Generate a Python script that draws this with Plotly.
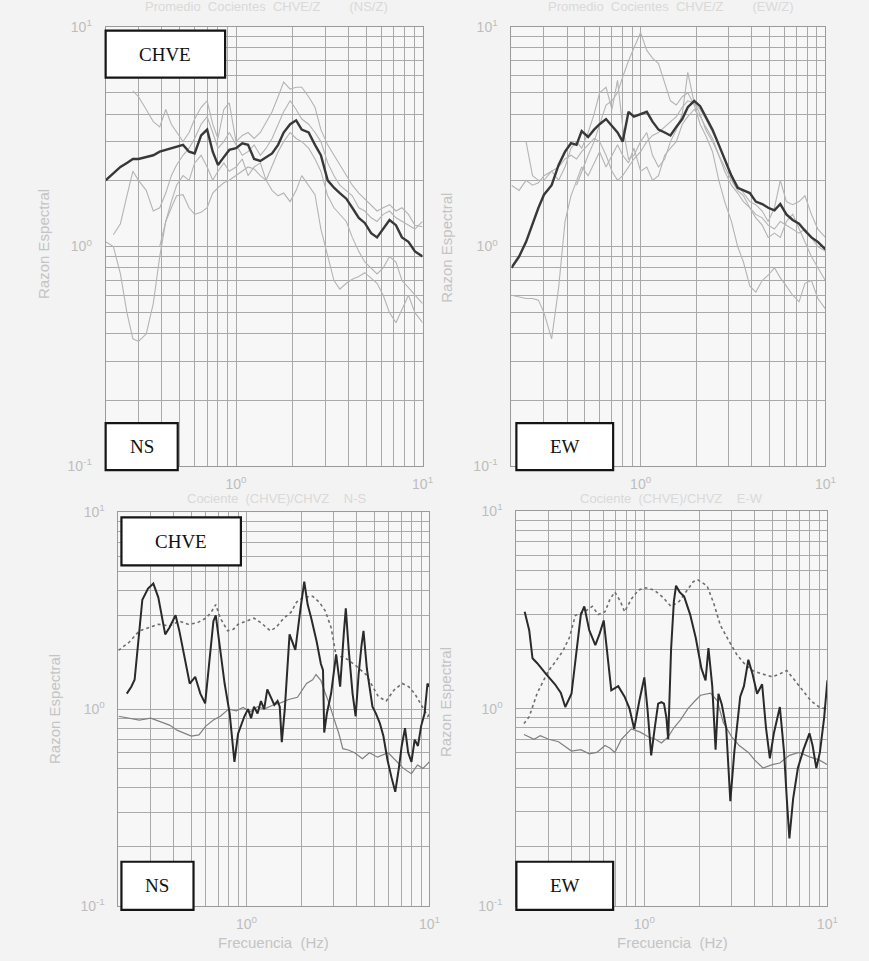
import math
import plotly.graph_objects as go

# ---------------- data ----------------
# common frequency grid for the averaged top panels (Hz)
F_TOP = [0.20, 0.22, 0.24, 0.26, 0.28, 0.30, 0.33, 0.36, 0.39, 0.42, 0.45, 0.48, 0.52, 0.56,
         0.60, 0.65, 0.70, 0.75, 0.80, 0.86, 0.92, 1.00, 1.08, 1.16, 1.25, 1.35, 1.45, 1.56,
         1.68, 1.80, 1.95, 2.10, 2.25, 2.45, 2.65, 2.85, 3.10, 3.35, 3.60, 3.90, 4.20, 4.55,
         4.90, 5.30, 5.70, 6.15, 6.65, 7.20, 7.75, 8.40, 9.10, 10.0]

# NS (top-left) : mean + individual ratios
NS_MEAN = [2.0, 2.15, 2.3, 2.4, 2.5, 2.5, 2.55, 2.6, 2.7, 2.75, 2.8, 2.85, 2.9, 2.7,
           2.65, 3.2, 3.4, 2.7, 2.35, 2.55, 2.75, 2.8, 2.95, 2.9, 2.5, 2.45, 2.55, 2.65,
           2.9, 3.3, 3.6, 3.75, 3.4, 3.3, 2.9, 2.6, 2.0, 1.85, 1.75, 1.65, 1.5, 1.35,
           1.28, 1.15, 1.1, 1.2, 1.32, 1.25, 1.1, 1.05, 0.95, 0.9]
NS_G1 = [None, None, None, None, 5.1, 4.8, 4.2, 3.7, 3.5, 4.2, 3.6, 3.3, 3.0, 3.3,
         3.8, 4.3, 4.6, 3.6, 3.1, 4.2, 4.5, 3.0, 3.2, 3.3, 3.1, 3.3, 3.7, 4.1,
         4.8, 5.6, 5.2, 5.3, 5.3, 4.8, 4.3, 3.4, 2.9, 2.6, 2.35, 2.1, 1.9, 1.75,
         1.65, 1.55, 1.45, 1.5, 1.55, 1.45, 1.5, 1.4, 1.25, 1.23]
NS_G2 = [None, 1.13, 1.27, 1.7, 2.2, 2.0, 1.8, 1.45, 1.5, 1.75, 2.1, 2.35, 2.6, 2.8,
         3.1, 3.6, 3.9, 3.3, 2.8, 3.0, 3.3, 2.9, 2.6, 2.7, 2.9, 2.6, 2.8, 3.1,
         3.6, 4.1, 4.6, 4.2, 3.8, 3.6, 3.3, 3.0, 2.4, 2.1, 1.9, 1.8, 1.7, 1.5,
         1.45, 1.35, 1.3, 1.4, 1.45, 1.35, 1.3, 1.25, 1.2, 1.3]
NS_G3 = [1.05, 1.0, 0.75, 0.5, 0.38, 0.37, 0.40, 0.55, 0.9, 1.3, 1.6, 1.9, 2.1, 2.0,
         2.4, 2.6, 2.3, 2.0, 2.2, 2.4, 2.2, 2.3, 2.5, 2.1, 2.3, 2.4, 2.0, 2.3,
         2.7, 3.0, 3.3, 3.1, 3.0, 2.8, 2.5, 2.2, 1.7, 1.5, 1.4, 1.3, 1.1, 0.95,
         0.85, 0.8, 0.75, 0.8, 0.9, 0.85, 0.7, 0.65, 0.6, 0.55]
NS_G4 = [None, None, None, None, None, None, None, None, 1.0, 1.3, 1.5, 1.7, 1.72, 1.5,
         1.4, 1.43, 1.5, 1.75, 1.85, 1.95, 2.0, 2.1, 2.2, 2.3, 2.25, 2.1, 2.0, 1.8,
         1.7, 1.75, 1.6, 1.8, 2.1, 1.9, 1.72, 1.2, 0.9, 0.7, 0.64, 0.68, 0.71, 0.73,
         0.76, 0.72, 0.68, 0.6, 0.5, 0.45, 0.52, 0.6, 0.5, 0.45]

# EW (top-right)
EW_MEAN = [0.8, 0.9, 1.05, 1.27, 1.5, 1.72, 1.9, 2.35, 2.7, 2.95, 2.9, 3.35, 3.15, 3.4,
           3.6, 3.8, 3.55, 3.3, 3.0, 4.1, 3.9, 4.0, 4.1, 3.7, 3.4, 3.3, 3.2, 3.5,
           3.8, 4.3, 4.6, 4.35, 3.9, 3.4, 2.9, 2.5, 2.1, 1.85, 1.8, 1.75, 1.6, 1.56,
           1.5, 1.46, 1.56, 1.4, 1.32, 1.27, 1.18, 1.1, 1.05, 0.97]
EW_G1 = [None, None, None, None, None, None, None, None, None, None, 1.9, 2.2, 2.6, 3.0,
         3.6, 4.4, 4.6, 5.0, 5.9, 7.0, 8.0, 9.4, 7.8, 7.2, 6.8, 5.5, 4.6, 4.4,
         4.8, 5.0, 4.4, 3.6, 3.2, 2.7, 2.0, 1.6, 1.3, 1.0, 0.85, 0.66, 0.62, 0.7,
         0.74, 0.8, 0.72, 0.66, 0.6, 0.56, 0.68, 0.7, 0.58, 0.52]
EW_G2 = [None, None, 3.0, 2.1, 2.0, 2.0, 2.2, 2.0, 2.3, 2.8, 3.0, 2.8, 3.3, 4.0,
         5.0, 5.3, 4.2, 5.7, 3.5, 2.5, 2.6, 3.0, 3.3, 2.6, 2.3, 2.5, 3.0, 3.4,
         4.0, 6.2, 4.5, 4.2, 3.8, 3.3, 2.9, 2.5, 2.1, 1.9, 1.75, 1.6, 1.55, 1.45,
         1.3, 1.5, 2.0, 1.6, 1.55, 1.6, 1.7, 1.4, 1.2, 1.1]
EW_G3 = [0.6, 0.59, 0.58, 0.58, 0.57, 0.5, 0.38, 0.65, 1.3, 1.7, 2.0, 2.3, 2.1, 2.4,
         2.7, 2.3, 2.6, 2.9, 2.6, 2.4, 2.8, 2.2, 2.3, 2.0, 2.1, 2.6, 2.8, 3.0,
         3.6, 3.9, 4.2, 3.9, 3.5, 3.1, 2.6, 2.3, 2.0, 1.8, 1.7, 1.5, 1.4, 1.35,
         1.25, 1.2, 1.3, 1.25, 1.2, 1.15, 1.2, 1.1, 1.0, 0.95]
EW_G4 = [1.9, 1.8, 2.0, 1.9, 1.95, 2.1, 2.2, 2.3, 2.5, 2.6, 2.5, 2.7, 2.9, 3.1,
         3.0, 2.6, 2.2, 2.0, 2.1, 2.3, 2.5, 2.7, 3.0, 3.2, 3.3, 3.5, 3.7, 3.9,
         4.3, 4.6, 4.5, 4.0, 3.4, 3.0, 2.6, 2.2, 1.9, 1.75, 1.6, 1.5, 1.35, 1.25,
         1.1, 1.15, 1.1, 1.3, 1.4, 1.2, 1.05, 0.9, 0.8, 0.7]

# bottom-left (NS) individual curves
NSB_THICK_F = [0.222, 0.235, 0.245, 0.26, 0.27, 0.29, 0.31, 0.33, 0.35, 0.36, 0.38, 0.41, 0.43, 0.46,
               0.49, 0.525, 0.56, 0.595, 0.63, 0.66, 0.68, 0.72, 0.76, 0.81, 0.86, 0.90, 0.94, 0.975,
               1.02, 1.06, 1.10, 1.15, 1.20, 1.25, 1.30, 1.36, 1.42, 1.48, 1.52, 1.56, 1.62, 1.72,
               1.85, 1.97, 2.07, 2.16, 2.26, 2.42, 2.55, 2.62, 2.66, 2.75, 2.90, 3.09, 3.25, 3.40,
               3.49, 3.62, 3.80, 3.95, 4.10, 4.25, 4.36, 4.55, 4.75, 4.88, 5.10, 5.35, 5.60, 5.90,
               6.20, 6.50, 6.80, 7.05, 7.35, 7.65, 7.97, 8.30, 8.65, 9.00, 9.40, 9.75, 10.0]
NSB_THICK_V = [1.2, 1.3, 1.41, 2.4, 3.6, 4.1, 4.35, 3.7, 2.8, 2.4, 2.6, 3.0, 2.5, 1.8,
               1.35, 1.46, 1.2, 1.07, 1.9, 2.8, 3.0, 2.0, 1.35, 0.95, 0.54, 0.75, 0.85, 0.92,
               1.0, 0.9, 1.03, 0.95, 1.1, 1.0, 1.26, 1.15, 1.05, 1.1, 1.03, 0.68, 1.0, 2.4,
               2.0, 3.2, 4.45, 3.4, 2.9, 2.2, 1.7, 1.58, 0.76, 0.95, 1.2, 1.9, 1.3, 2.4,
               3.25, 2.0, 1.2, 0.92, 1.5, 2.1, 2.5, 1.6, 1.2, 1.03, 0.95, 0.85, 0.73, 0.55,
               0.45, 0.38, 0.5, 0.65, 0.8, 0.6, 0.54, 0.7, 0.65, 0.82, 0.95, 1.35, 1.3]
NSB_THIN_F = [0.2, 0.23, 0.26, 0.3, 0.34, 0.38, 0.42, 0.46, 0.5, 0.55, 0.6, 0.66, 0.72, 0.8,
              0.88, 0.96, 1.05, 1.15, 1.25, 1.4, 1.55, 1.7, 1.9, 2.13, 2.3, 2.4, 2.55, 2.7,
              2.83, 3.0, 3.2, 3.36, 3.6, 3.9, 4.3, 4.7, 5.2, 5.95, 6.5, 7.2, 7.97, 8.6, 9.2, 10.0]
NSB_THIN_V = [0.92, 0.9, 0.88, 0.9, 0.86, 0.83, 0.78, 0.75, 0.73, 0.74, 0.82, 0.88, 0.92, 1.0,
              0.98, 1.02, 0.97, 1.03, 1.0, 1.05, 1.08, 1.12, 1.15, 1.35, 1.41, 1.5, 1.4, 1.2,
              1.07, 0.9, 0.75, 0.63, 0.62, 0.6, 0.56, 0.6, 0.57, 0.6, 0.55, 0.5, 0.47, 0.52, 0.5, 0.54]
NSB_DOT_F = [0.2, 0.23, 0.26, 0.29, 0.33, 0.38, 0.43, 0.48, 0.54, 0.6, 0.64, 0.68, 0.72, 0.79,
             0.85, 0.9, 1.0, 1.1, 1.2, 1.35, 1.45, 1.6, 1.75, 1.88, 2.05, 2.3, 2.5, 2.7,
             2.9, 3.1, 3.35, 3.6, 4.0, 4.5, 4.9, 5.25, 5.8, 6.4, 7.1, 7.7, 8.3, 9.0, 9.8, 10.0]
NSB_DOT_V = [1.99, 2.2, 2.5, 2.6, 2.7, 2.65, 2.8, 2.7, 2.75, 2.9, 3.1, 3.4, 2.9, 2.5,
             2.55, 2.7, 2.8, 2.9, 2.75, 2.5, 2.6, 2.9, 3.1, 3.5, 3.7, 3.75, 3.5, 3.15,
             2.6, 1.84, 1.85, 1.78, 1.65, 1.5, 1.3, 1.16, 1.1, 1.25, 1.35, 1.3, 1.2, 1.05, 0.92, 0.95]

# bottom-right (EW) individual curves
EWB_THICK_F = [0.222, 0.235, 0.245, 0.26, 0.29, 0.325, 0.35, 0.37, 0.40, 0.43, 0.45, 0.47, 0.50, 0.54,
               0.57, 0.60, 0.63, 0.66, 0.72, 0.78, 0.83, 0.88, 0.94, 1.0, 1.04, 1.09, 1.14, 1.19,
               1.24, 1.28, 1.32, 1.35, 1.40, 1.45, 1.49, 1.56, 1.65, 1.78, 1.91, 2.05, 2.16, 2.24,
               2.35, 2.45, 2.54, 2.65, 2.80, 2.95, 3.10, 3.34, 3.50, 3.70, 3.90, 4.13, 4.40, 4.62,
               4.85, 5.10, 5.50, 5.80, 6.00, 6.20, 6.50, 6.90, 7.40, 7.98, 8.30, 8.70, 9.10, 9.60, 10.0]
EWB_THICK_V = [3.1, 2.5, 1.8, 1.7, 1.5, 1.33, 1.2, 1.02, 1.19, 2.2, 3.0, 3.3, 2.5, 2.1,
               2.4, 2.8, 1.8, 1.24, 1.3, 1.15, 1.0, 0.79, 1.1, 1.44, 1.0, 0.58, 0.8, 1.06,
               1.08, 1.06, 0.9, 0.7, 2.0, 3.5, 4.2, 3.9, 3.7, 3.0, 2.28, 1.6, 1.39, 2.03,
               1.3, 0.62, 1.19, 1.05, 0.8, 0.34, 0.6, 1.15, 1.3, 1.77, 1.5, 1.19, 1.33, 0.8,
               0.56, 0.75, 1.02, 0.6, 0.35, 0.22, 0.35, 0.5, 0.62, 0.75, 0.65, 0.5, 0.6, 0.9, 1.39]
EWB_THIN_F = [0.22, 0.25, 0.27, 0.3, 0.34, 0.4, 0.45, 0.5, 0.55, 0.61, 0.65, 0.69, 0.75, 0.85,
              0.95, 1.05, 1.15, 1.24, 1.35, 1.45, 1.58, 1.73, 1.9, 2.03, 2.3, 2.5, 2.7, 3.0,
              3.3, 3.7, 4.0, 4.45, 5.0, 5.5, 6.2, 7.0, 8.0, 9.0, 10.0]
EWB_THIN_V = [0.74, 0.7, 0.73, 0.7, 0.68, 0.61, 0.62, 0.59, 0.6, 0.65, 0.63, 0.6, 0.7, 0.79,
              0.76, 0.72, 0.7, 0.67, 0.72, 0.8, 0.88, 1.0, 1.1, 1.17, 1.2, 1.1, 0.85, 0.72,
              0.65, 0.6, 0.55, 0.5, 0.52, 0.53, 0.58, 0.6, 0.57, 0.55, 0.52]
EWB_DOT_F = [0.22, 0.235, 0.26, 0.30, 0.33, 0.36, 0.39, 0.42, 0.47, 0.52, 0.56, 0.61, 0.65, 0.69,
             0.74, 0.78, 0.85, 0.93, 1.02, 1.13, 1.25, 1.4, 1.55, 1.73, 1.85, 1.96, 2.1, 2.2,
             2.4, 2.6, 2.9, 3.2, 3.5, 3.9, 4.4, 5.0, 5.5, 6.0, 6.6, 7.3, 8.1, 9.0, 10.0]
EWB_DOT_V = [0.84, 0.91, 1.2, 1.56, 1.75, 1.97, 2.3, 2.97, 3.1, 3.3, 3.0, 3.1, 3.6, 3.9,
             3.5, 3.1, 3.6, 4.0, 4.1, 4.0, 3.7, 3.3, 3.5, 4.0, 4.4, 4.5, 4.3, 4.2,
             3.4, 2.65, 2.2, 1.88, 1.7, 1.56, 1.5, 1.45, 1.5, 1.56, 1.4, 1.24, 1.1, 1.02, 0.99]

X_MAJOR = [1, 10]
X_MAJOR_TEXT = ["10<sup>0</sup>", "10<sup>1</sup>"]
Y_MAJOR = [0.1, 1, 10]
Y_MAJOR_TEXT = ["10<sup>-1</sup>", "10<sup>0</sup>", "10<sup>1</sup>"]
X_MINOR = [0.2, 0.3, 0.4, 0.5, 0.6, 0.7, 0.8, 0.9, 2, 3, 4, 5, 6, 7, 8, 9]
Y_MINOR = [0.2, 0.3, 0.4, 0.5, 0.6, 0.7, 0.8, 0.9, 2, 3, 4, 5, 6, 7, 8, 9]

# ---------------- figure ----------------
W, H = 869, 961
def px(x):
    return x / W
def py(y):
    return 1 - y / H

# panel pixel boxes (left, top, right, bottom)
PANELS = [(107, 17, 428, 465), (518, 17, 836, 465), (120, 512, 435, 913), (523, 511, 838, 913)]

GRID = "#a9a9a9"
BG = "#f3f3f3"
TICKFONT = dict(family="Liberation Sans, Arial, sans-serif", size=14, color="#bdbdbd")

fig = go.Figure()
layout = dict(width=W, height=H, margin=dict(l=0, r=0, t=0, b=0),
              paper_bgcolor=BG, plot_bgcolor="#f7f7f7", showlegend=False)

for i, (l, t, r, b) in enumerate(PANELS, start=1):
    sx = "" if i == 1 else str(i)
    layout["xaxis" + sx] = dict(
        type="log", range=[math.log10(0.2), 1], domain=[px(l), px(r)],
        anchor="y" + sx, tickvals=X_MAJOR, ticktext=X_MAJOR_TEXT, tickfont=TICKFONT,
        ticks="outside", ticklen=5, tickcolor="rgba(0,0,0,0)",
        showgrid=True, gridcolor=GRID, gridwidth=1,
        minor=dict(tickvals=X_MINOR, showgrid=True, gridcolor=GRID, gridwidth=1, ticks=""),
        showline=True, linecolor="#9a9a9a", linewidth=1, mirror=True, zeroline=False)
    layout["yaxis" + sx] = dict(
        type="log", range=[-1, 1], domain=[py(b), py(t)],
        anchor="x" + sx, tickvals=Y_MAJOR, ticktext=Y_MAJOR_TEXT, tickfont=TICKFONT,
        ticks="outside", ticklen=10, tickcolor="rgba(0,0,0,0)",
        showgrid=True, gridcolor=GRID, gridwidth=1,
        minor=dict(tickvals=Y_MINOR, showgrid=True, gridcolor=GRID, gridwidth=1, ticks=""),
        showline=True, linecolor="#9a9a9a", linewidth=1, mirror=True, zeroline=False)

fig.update_layout(**layout)

def add(x, y, n, color, width, dash="solid"):
    sx = "" if n == 1 else str(n)
    fig.add_trace(go.Scatter(x=x, y=y, mode="lines", xaxis="x" + sx, yaxis="y" + sx,
                             line=dict(color=color, width=width, dash=dash),
                             connectgaps=False, hoverinfo="skip"))

LIGHT = "#b4b4b4"
for g in (NS_G1, NS_G2, NS_G3, NS_G4):
    add(F_TOP, g, 1, LIGHT, 1.1)
add(F_TOP, NS_MEAN, 1, "#383838", 2.4)

for g in (EW_G1, EW_G2, EW_G3, EW_G4):
    add(F_TOP, g, 2, LIGHT, 1.1)
add(F_TOP, EW_MEAN, 2, "#383838", 2.4)

add(NSB_DOT_F, NSB_DOT_V, 3, "#6e6e6e", 1.6, "dot")
add(NSB_THIN_F, NSB_THIN_V, 3, "#808080", 1.2)
add(NSB_THICK_F, NSB_THICK_V, 3, "#2a2a2a", 2.0)

add(EWB_DOT_F, EWB_DOT_V, 4, "#6e6e6e", 1.6, "dot")
add(EWB_THIN_F, EWB_THIN_V, 4, "#808080", 1.2)
add(EWB_THICK_F, EWB_THICK_V, 4, "#2a2a2a", 2.0)

# label boxes (pixel boxes) with serif text
BOXES = [((107, 21, 228, 69), "CHVE"), ((107, 421, 180, 469), "NS"),
         ((523, 421, 621, 469), "EW"), ((123, 517, 244, 566), "CHVE"),
         ((123, 868, 196, 917), "NS"), ((523, 868, 621, 917), "EW")]
shapes = []
annotations = []
for (l, t, r, b), txt in BOXES:
    shapes.append(dict(type="rect", xref="paper", yref="paper", x0=px(l), x1=px(r), y0=py(b), y1=py(t),
                       fillcolor="white", line=dict(color="#151515", width=2.2), layer="above"))
    annotations.append(dict(x=px((l + r) / 2), y=py((t + b) / 2), xref="paper", yref="paper",
                            text=txt, showarrow=False, xanchor="center", yanchor="middle",
                            font=dict(family="Liberation Serif, Times New Roman, serif", size=19, color="#111")))

AX_FONT = dict(family="Liberation Sans, Arial, sans-serif", size=15, color="#c4c4c4")
for x, y in [(44, 238), (452, 242), (55, 712), (452, 705)]:
    annotations.append(dict(x=px(x), y=py(y), xref="paper", yref="paper", text="Razon Espectral",
                            textangle=-90, showarrow=False, xanchor="center", yanchor="middle", font=AX_FONT))
for x in (277, 681):
    annotations.append(dict(x=px(x), y=py(950), xref="paper", yref="paper", text="Frecuencia  (Hz)",
                            showarrow=False, xanchor="center", yanchor="middle", font=AX_FONT))

FAINT = dict(family="Liberation Sans, Arial, sans-serif", size=13, color="#d9d9d9")
for x, txt in [(270, "Promedio  Cocientes  CHVE/Z        (NS/Z)"),
               (680, "Promedio  Cocientes  CHVE/Z        (EW/Z)")]:
    annotations.append(dict(x=px(x), y=py(-4), xref="paper", yref="paper", text=txt,
                            showarrow=False, xanchor="center", yanchor="middle", font=FAINT))
for x, txt in [(280, "Cociente  (CHVE)/CHVZ    N-S"), (680, "Cociente  (CHVE)/CHVZ    E-W")]:
    annotations.append(dict(x=px(x), y=py(498), xref="paper", yref="paper", text=txt,
                            showarrow=False, xanchor="center", yanchor="middle", font=FAINT))

fig.update_layout(shapes=shapes, annotations=annotations)
fig.write_html("out.html", config={"displayModeBar": False},
               post_script="document.body.style.margin='0';document.body.style.background='%s';"
                           "document.documentElement.style.overflow='hidden';" % BG)
